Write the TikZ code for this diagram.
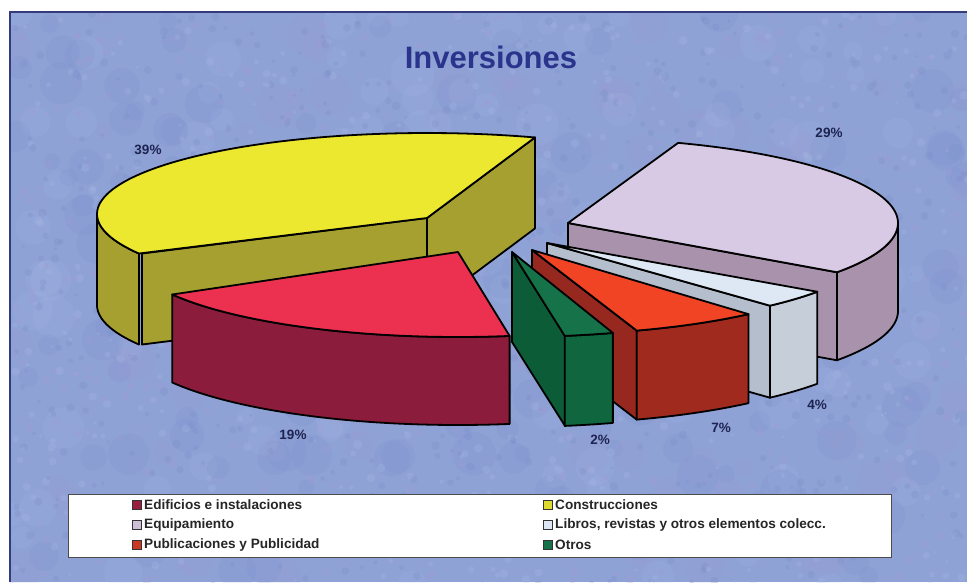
\documentclass[tikz,border=0pt]{standalone}
\usepackage{fontspec}
\setmainfont{Liberation Sans}
\definecolor{bgblue}{RGB}{142,162,214}
\definecolor{blob0}{RGB}{176,190,232}
\definecolor{blob1}{RGB}{116,136,198}
\definecolor{blob2}{RGB}{166,152,212}
\definecolor{framec}{RGB}{50,60,125}
\definecolor{ytop}{RGB}{236,232,48}
\definecolor{yside}{RGB}{166,160,48}
\definecolor{rtop}{RGB}{236,48,80}
\definecolor{rside}{RGB}{140,28,60}
\definecolor{gtop}{RGB}{22,114,72}
\definecolor{gside}{RGB}{12,92,56}
\definecolor{gfront}{RGB}{16,102,62}
\definecolor{ptop}{RGB}{240,68,36}
\definecolor{pside}{RGB}{150,40,32}
\definecolor{pfront}{RGB}{160,42,30}
\definecolor{ltop}{RGB}{222,232,244}
\definecolor{lside}{RGB}{180,190,204}
\definecolor{lfront}{RGB}{198,206,218}
\definecolor{vtop}{RGB}{216,202,228}
\definecolor{vside}{RGB}{168,146,172}
\definecolor{titleblue}{RGB}{42,52,140}
\definecolor{pctc}{RGB}{30,35,80}
\begin{document}
\begin{tikzpicture}[x=1pt,y=-1pt,
  edge/.style={draw=black, line width=1.8pt, line join=round},
  pct/.style={font=\fontsize{13.5}{13.5}\selectfont\bfseries, text=pctc, inner sep=0pt},
  legtext/.style={font=\fontsize{13.6}{13.6}\selectfont\bfseries, text=black!85, anchor=west, inner sep=0pt},
  swatch/.style={draw=black!80, line width=0.8pt, minimum size=8.5pt, inner sep=0pt}]
\useasboundingbox (0,0) rectangle (967,582);
\fill[white] (0,0) rectangle (967,582);
\fill[bgblue] (10,12) rectangle (967,582);
\begin{scope}
\clip (10,12) rectangle (967,582);
\pgfmathsetseed{11}
\foreach \i in {1,...,350}{
  \pgfmathsetmacro\bx{10+960*rnd}
  \pgfmathsetmacro\by{12+575*rnd}
  \pgfmathsetmacro\br{8+14*rnd}
  \pgfmathtruncatemacro\bc{int(3*rnd)}
  \fill[fill=blob\bc, opacity=0.12] (\bx,\by) circle[radius=\br];
}
\foreach \i in {1,...,1800}{
  \pgfmathsetmacro\bx{10+960*rnd}
  \pgfmathsetmacro\by{12+575*rnd}
  \pgfmathsetmacro\br{1.5+3*rnd}
  \pgfmathtruncatemacro\bc{int(3*rnd)}
  \fill[fill=blob\bc, opacity=0.22] (\bx,\by) circle[radius=\br];
}
\end{scope}
\draw[framec, line width=1.6pt] (967,12) -- (10,12) -- (10,582);

% Title
\node[font=\fontsize{31}{31}\selectfont\bfseries, text=titleblue, inner sep=0pt] (title) at (491,57) {Inversiones};

% ---- Construcciones (yellow) ----
\filldraw[edge, fill=yside] plot[domain=-180:-209.2, samples=30, variable=\t] ({427+330*cos(\t)},{214+81*sin(\t)})
  -- plot[domain=-209.2:-180, samples=30, variable=\t] ({427+330*cos(\t)},{305+81*sin(\t)}) -- cycle;
\filldraw[edge, fill=yside] (427,218) -- (142,253.5) -- (142,344.5) -- (427,309) -- cycle;
\filldraw[edge, fill=yside] (427,218) -- (535,137.4) -- (535,228.4) -- (427,309) -- cycle;
\filldraw[edge, fill=ytop] (427,218) -- (535,137.4)
  -- plot[domain=-70.9:-209.2, samples=80, variable=\t] ({427+330*cos(\t)},{214+81*sin(\t)}) -- cycle;

% ---- Equipamiento (lavender) ----
\filldraw[edge, fill=vside] plot[domain=0:35.4, samples=30, variable=\t] ({568+330*cos(\t)},{223+85*sin(\t)})
  -- plot[domain=35.4:0, samples=30, variable=\t] ({568+330*cos(\t)},{311+85*sin(\t)}) -- cycle;
\filldraw[edge, fill=vside] (568,223) -- (837,272.3) -- (837,360.3) -- (568,311) -- cycle;
\filldraw[edge, fill=vtop] (568,223)
  -- plot[domain=-70.5:35.4, samples=80, variable=\t] ({568+330*cos(\t)},{223+85*sin(\t)}) -- cycle;

% ---- Edificios e instalaciones (red) ----
\filldraw[edge, fill=rside] plot[domain=81:150, samples=40, variable=\t] ({458+330*cos(\t)},{252+85*sin(\t)})
  -- plot[domain=150:81, samples=40, variable=\t] ({458+330*cos(\t)},{340+85*sin(\t)}) -- cycle;
\filldraw[edge, fill=rtop] (458,252)
  -- plot[domain=81:150, samples=40, variable=\t] ({458+330*cos(\t)},{252+85*sin(\t)}) -- cycle;

% ---- Libros (light) ----
\filldraw[edge, fill=lside] (547,243) -- (770,305.7) -- (770,397.7) -- (547,335) -- cycle;
\filldraw[edge, fill=lfront] plot[domain=35:47.5, samples=15, variable=\t] ({547+330*cos(\t)},{243+85*sin(\t)})
  -- plot[domain=47.5:35, samples=15, variable=\t] ({547+330*cos(\t)},{335+85*sin(\t)}) -- cycle;
\filldraw[edge, fill=ltop] (547,243)
  -- plot[domain=35:47.5, samples=15, variable=\t] ({547+330*cos(\t)},{243+85*sin(\t)}) -- cycle;

% ---- Publicaciones (orange-red) ----
\filldraw[edge, fill=pside] (532,250) -- (636.7,330.6) -- (636.7,419.6) -- (532,339) -- cycle;
\filldraw[edge, fill=pfront] plot[domain=49:71.5, samples=20, variable=\t] ({532+330*cos(\t)},{250+85*sin(\t)})
  -- plot[domain=71.5:49, samples=20, variable=\t] ({532+330*cos(\t)},{339+85*sin(\t)}) -- cycle;
\filldraw[edge, fill=ptop] (532,250)
  -- plot[domain=49:71.5, samples=20, variable=\t] ({532+330*cos(\t)},{250+85*sin(\t)}) -- cycle;

% ---- Otros (green) ----
\filldraw[edge, fill=gside] (512,252) -- (565,335.9) -- (565,425.9) -- (512,342) -- cycle;
\filldraw[edge, fill=gfront] plot[domain=72.2:80.8, samples=12, variable=\t] ({512+330*cos(\t)},{252+85*sin(\t)})
  -- plot[domain=80.8:72.2, samples=12, variable=\t] ({512+330*cos(\t)},{342+85*sin(\t)}) -- cycle;
\filldraw[edge, fill=gtop] (512,252)
  -- plot[domain=72.2:80.8, samples=12, variable=\t] ({512+330*cos(\t)},{252+85*sin(\t)}) -- cycle;

% Percent labels
\node[pct] (p39) at (148,150) {39\%};
\node[pct] (p29) at (829,133) {29\%};
\node[pct] (p19) at (293,435) {19\%};
\node[pct] (p2) at (600,440) {2\%};
\node[pct] (p7) at (721,428) {7\%};
\node[pct] (p4) at (817,405) {4\%};

% Legend
\filldraw[fill=white, draw=black!70, line width=0.8pt] (68,494) rectangle (891,557);
\node[swatch, fill=rside!85!rtop] (s1) at (137,505) {};
\node[legtext] (t1) at (144,505) {Edificios e instalaciones};
\node[swatch, fill=ytop!80!yside] (s2) at (548,505) {};
\node[legtext] (t2) at (555,505) {Construcciones};
\node[swatch, fill=vtop!80!vside] (s3) at (137,525) {};
\node[legtext] (t3) at (144,525) {Equipamiento};
\node[swatch, fill=ltop] (s4) at (548,525) {};
\node[legtext] (t4) at (555,525) {Libros, revistas y otros elementos colecc.};
\node[swatch, fill=ptop!60!pside] (s5) at (137,545) {};
\node[legtext] (t5) at (144,545) {Publicaciones y Publicidad};
\node[swatch, fill=gtop] (s6) at (548,545) {};
\node[legtext] (t6) at (555,545) {Otros};
\end{tikzpicture}
\end{document}
